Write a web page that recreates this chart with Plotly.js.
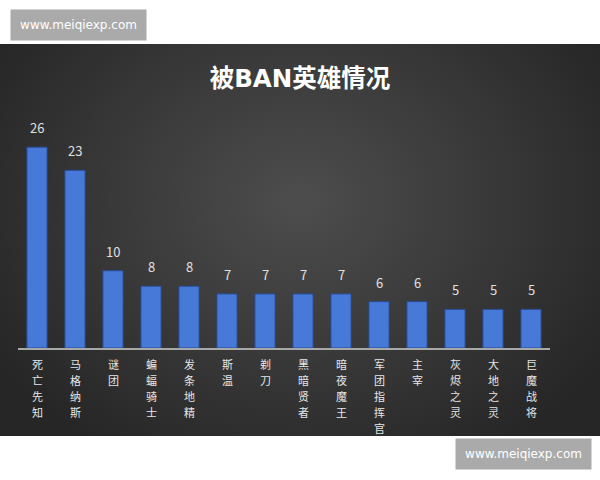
<!DOCTYPE html>
<html>
<head>
<meta charset="utf-8">
<script src="https://cdn.plot.ly/plotly-3.0.1.min.js"></script>
<style>
  html, body { margin: 0; padding: 0; background: #ffffff; }
  #wrap { position: relative; width: 600px; height: 480px; }
  #bg { position: absolute; left: 0; top: 44px; width: 600px; height: 392px;
        background: radial-gradient(ellipse 60% 75% at 50% 40%, #4d4d4d 0%, #3a3a3a 50%, #262626 100%); }
  #chart { position: absolute; left: 0; top: 0; width: 600px; height: 480px; }
</style>
</head>
<body>
<div id="wrap">
  <div id="bg"></div>
  <div id="chart"></div>
</div>
<script>
const heroes = ['死亡先知', '马格纳斯', '谜团', '蝙蝠骑士', '发条地精', '斯温', '剃刀',
                '黑暗贤者', '暗夜魔王', '军团指挥官', '主宰', '灰烬之灵', '大地之灵', '巨魔战将'];
const banCounts = [26, 23, 10, 8, 8, 7, 7, 7, 7, 6, 6, 5, 5, 5];
const chartTitle = '被BAN英雄情况';
const watermark = 'www.meiqiexp.com';

const cjk = 'Noto Sans CJK SC, sans-serif';

const trace = {
  type: 'bar',
  x: heroes,
  y: banCounts,
  marker: { color: '#4679d8', line: { color: '#2a4c94', width: 1 } },
  hoverinfo: 'none'
};

const annotations = [];
// value labels above bars
heroes.forEach((h, i) => {
  annotations.push({
    text: String(banCounts[i]), x: h, y: banCounts[i], xref: 'x', yref: 'y',
    xanchor: 'center', yanchor: 'bottom', yshift: 9, showarrow: false, borderpad: 0,
    font: { family: cjk, size: 13, color: '#e0e0e0' }
  });
});
// vertical category labels, one character per line
const pitch = 16;
heroes.forEach(h => {
  h.split('').forEach((ch, j) => {
    annotations.push({
      text: ch, x: h, y: 0, xref: 'x', yref: 'paper',
      xanchor: 'center', yanchor: 'top', yshift: -7 - j * pitch, showarrow: false, borderpad: 0,
      font: { family: cjk, size: 11, color: '#e6e6e6' }
    });
  });
});
// watermarks
annotations.push(
  { text: watermark, xref: 'paper', yref: 'paper', x: -0.015, y: 1.302, xanchor: 'left', yanchor: 'middle',
    showarrow: false, bgcolor: '#aaaaaa', font: { family: 'DejaVu Sans, sans-serif', size: 12, color: '#ffffff' },
    borderpad: 8, width: 119, height: 14 },
  { text: watermark, xref: 'paper', yref: 'paper', x: 0.821, y: -0.427, xanchor: 'left', yanchor: 'middle',
    showarrow: false, bgcolor: '#aaaaaa', font: { family: 'DejaVu Sans, sans-serif', size: 12, color: '#ffffff' },
    borderpad: 8, width: 119, height: 14 }
);

const layout = {
  width: 600, height: 480,
  paper_bgcolor: 'rgba(0,0,0,0)',
  plot_bgcolor: 'rgba(0,0,0,0)',
  margin: { l: 18, r: 50, t: 100, b: 132 },
  bargap: 0.47,
  showlegend: false,
  title: {
    text: '<b>' + chartTitle + '</b>',
    font: { family: 'DejaVu Sans, Noto Sans CJK SC, sans-serif', size: 24.5, color: '#ffffff' },
    x: 0.5, xanchor: 'center', y: 0.836, yanchor: 'middle'
  },
  xaxis: {
    type: 'category',
    showticklabels: false,
    showline: true, linecolor: '#a8a8a8', linewidth: 1.5,
    ticks: '', showgrid: false, zeroline: false
  },
  yaxis: {
    range: [0, 32.1],
    visible: false, showgrid: false, zeroline: false
  },
  annotations: annotations
};

Plotly.newPlot('chart', [trace], layout, { displayModeBar: false, staticPlot: true });
</script>
</body>
</html>
